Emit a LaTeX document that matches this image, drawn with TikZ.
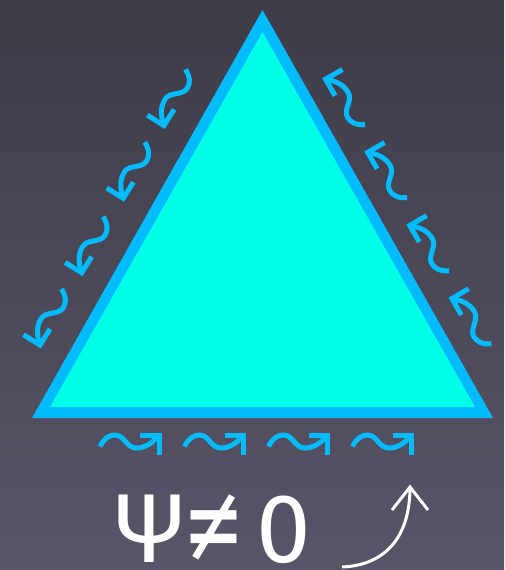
\documentclass[tikz,border=0pt]{standalone}
\usepackage{fontspec}
\setmainfont{Fira Sans}
\definecolor{bgtop}{HTML}{3E3C47}
\definecolor{bgbot}{HTML}{575568}
\definecolor{rim}{HTML}{00BCFF}
\definecolor{face}{HTML}{00FFE6}
\tikzset{
  wave/.style={draw=rim, line width=5pt, line join=miter},
  pics/wavearrow/.style={code={
    \draw[wave] (0,0) .. controls (4,-8) and (9,-11.5) .. (15,-11.5)
                      .. controls (24,-11.5) and (27,1.5) .. (36,1.5)
                      .. controls (45,1.5) and (52,-3) .. (59,-11.5);
    \draw[wave] (40,-11.5) -- (59,-11.5) -- (59,8);
  }},
  bigtext/.style={text=white, font=\fontsize{98}{98}\selectfont, inner sep=0pt},
  pointer/.style={draw=white, line width=3pt, line join=miter}
}
\begin{document}
\begin{tikzpicture}[x=1pt, y=-1pt]
  \fill[top color=bgtop, bottom color=bgbot] (0,0) rectangle (504,570);
  \useasboundingbox (0,0) rectangle (504,570);

  % triangle
  \coordinate (A) at (262.5,10);
  \coordinate (B) at (32,418);
  \coordinate (C) at (493,418);
  \coordinate (a) at (262.5,32);
  \coordinate (b) at (50,407);
  \coordinate (c) at (475,407);
  \fill[rim] (A) -- (B) -- (C) -- cycle;
  \fill[face] (a) -- (b) -- (c) -- cycle;

  % bottom wavy arrows
  \foreach \x in {100,184.5,268.5,352.5}
    \pic at (\x,446.5) {wavearrow};

  % left wavy arrows
  \foreach \p in {(185.5,69.4),(144.8,142.2),(103.2,216.6),(61.5,288.9)}
    \pic[rotate=-122] at \p {wavearrow};

  % right wavy arrows
  \foreach \p in {(365,124.6),(407.1,197.7),(449.2,270.8),(491.3,343.9)}
    \pic[rotate=120] at \p {wavearrow};

  % label
  \node[bigtext, anchor=base] (psi) at (150,562) {Ψ};
  \node[bigtext, font=\fontsize{122}{122}\selectfont, anchor=center] (neq) at (213.5,531) {≠};
  \node[bigtext, anchor=base] (zero) at (284,562) {0};

  % white pointer
  \coordinate (ps) at (342,567);
  \coordinate (pt) at (410,487);
  \coordinate (pl) at (392,510);
  \coordinate (pr) at (428,510);
  \draw[pointer] (ps) .. controls (372,566) and (410,550) .. (pt);
  \draw[pointer] (pl) -- (pt) -- (pr);
\end{tikzpicture}
\end{document}
